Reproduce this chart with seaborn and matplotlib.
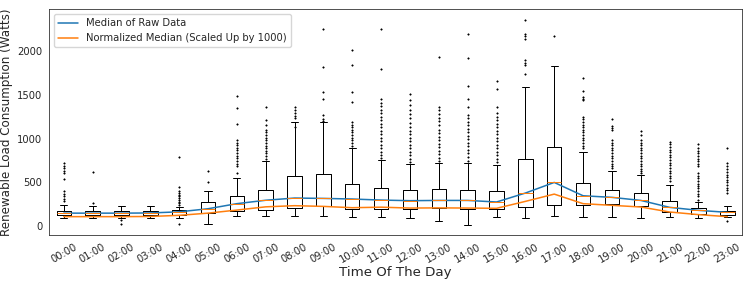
import matplotlib.pyplot as plt
import seaborn as sns

# valeurs (Watts)
hours = ["00:00", "01:00", "02:00", "03:00", "04:00", "05:00", "06:00", "07:00",
         "08:00", "09:00", "10:00", "11:00", "12:00", "13:00", "14:00", "15:00",
         "16:00", "17:00", "18:00", "19:00", "20:00", "21:00", "22:00", "23:00"]

median_raw = [150, 150, 150, 152, 165, 200, 258, 297, 322, 318, 311, 299,
              292, 295, 295, 277, 379, 500, 348, 330, 295, 216, 182, 159]
norm_median = [110, 110, 110, 112, 125, 150, 185, 222, 235, 227, 212, 218,
               208, 210, 208, 205, 284, 367, 258, 239, 220, 163, 133, 110]

q1 = [129, 125, 125, 125, 133, 152, 170, 182, 208, 227, 201, 197,
      197, 208, 201, 201, 220, 239, 242, 258, 227, 167, 144, 133]
q3 = [178, 178, 174, 174, 190, 281, 341, 413, 568, 598, 481, 432,
      409, 420, 413, 398, 769, 909, 489, 409, 379, 288, 205, 174]
whis_low = [95, 95, 95, 95, 95, 27, 114, 114, 114, 114, 102, 106,
            91, 64, 19, 106, 95, 114, 106, 102, 91, 102, 95, 106]
whis_high = [239, 227, 227, 235, 220, 406, 553, 746, 1189, 1189, 890, 754,
             712, 727, 720, 701, 1583, 1826, 845, 625, 580, 466, 277, 231]

outliers = [
    [720, 690, 660, 630, 606, 538, 398, 370, 340, 310, 284],
    [614, 265],
    [68, 23],
    [],
    [795, 448, 400, 380, 360, 340, 320, 300, 280, 260, 245, 30],
    [633, 508],
    [1489, 1345, 1167, 985, 955, 925, 895, 865, 835, 805, 775, 745, 715, 685, 610],
    [1364, 1212, 1150, 1100, 1070, 1040, 1010, 980, 950, 920, 890, 860, 830, 800, 770],
    [1356, 1320, 1290, 1260, 1240, 1136],
    [2246, 1818, 1534, 1455, 1269, 1220, 1200],
    [2015, 1837, 1534, 1420, 1193, 1160, 1130, 1100, 1070, 1040, 1010, 980, 950, 920],
    [2246, 1792, 1447, 1410, 1370, 1330, 1290, 1250, 1210, 1170, 1130, 1090, 1050,
     1010, 970, 930, 890, 850, 810, 780],
    [1504, 1439, 1380, 1330, 1280, 1230, 1180, 1130, 1090, 1050, 1010, 970, 930,
     890, 850, 810, 770, 735],
    [1932, 1356, 1320, 1280, 1240, 1200, 1150, 1100, 1060, 1020, 980, 940, 900,
     860, 820, 780, 745],
    [2189, 1913, 1602, 1455, 1356, 1269, 1230, 1190, 1150, 1110, 1070, 1030, 990,
     950, 910, 870, 830, 790, 750],
    [1655, 1564, 1364, 1288, 1250, 1210, 1170, 1130, 1090, 1050, 1010, 970, 930,
     890, 850, 810, 770, 730],
    [2356, 2197, 2170, 2140, 1894, 1865, 1837, 1735],
    [2167],
    [1689, 1545, 1470, 1455, 1439, 1250, 1220, 1190, 1160, 1130, 1100, 1070, 1040,
     1010, 980, 950, 920, 890],
    [1220, 1144, 1120, 1098, 985, 955, 925, 895, 865, 835, 805, 775, 745, 715, 685, 663],
    [1091, 1042, 985, 955, 925, 895, 865, 835, 805, 775, 745, 715, 685, 655, 625, 606],
    [966, 935, 905, 875, 845, 815, 785, 755, 725, 695, 665, 635, 605, 575, 545, 515],
    [939, 890, 860, 830, 800, 770, 740, 710, 682, 606, 575, 545, 515, 485, 455,
     436, 398, 370, 340, 303],
    [898, 720, 682, 650, 620, 590, 560, 530, 500, 470, 440, 410, 379, 64],
]

# 2. Construire les statistiques des boîtes
stats = []
for i in range(len(hours)):
    stats.append({
        "med": median_raw[i], "q1": q1[i], "q3": q3[i],
        "whislo": whis_low[i], "whishi": whis_high[i],
        "fliers": outliers[i],
    })
positions = list(range(len(hours)))

# 3. Figure
sns.set_style("white")
plt.rcParams['font.family'] = ['DejaVu Sans']

fig, ax = plt.subplots(figsize=(7.47, 2.83), dpi=100)
fig.subplots_adjust(left=0.066, right=0.993, top=0.967, bottom=0.17)

lw = 0.72
ax.bxp(stats, positions=positions, widths=0.5, manage_ticks=False,
       boxprops=dict(color='black', linewidth=lw),
       whiskerprops=dict(color='black', linewidth=lw),
       capprops=dict(color='black', linewidth=lw),
       medianprops=dict(color='#ff7f0e', linewidth=lw),
       flierprops=dict(marker='o', markersize=1.1, markerfacecolor='black',
                       markeredgecolor='black', markeredgewidth=0.3))

sns.lineplot(x=positions, y=median_raw, ax=ax, color='#1f77b4', linewidth=1.1,
             label="Median of Raw Data")
sns.lineplot(x=positions, y=norm_median, ax=ax, color='#ff7f0e', linewidth=1.1,
             label="Normalized Median (Scaled Up by 1000)")

ax.set_xlim(-0.5, len(hours) - 0.5)
ax.set_xticks(positions)
ax.set_xticklabels(hours, rotation=30, fontsize=7.2)
ax.set_yticks([0, 500, 1000, 1500, 2000])
ax.tick_params(axis='y', labelsize=7.2)
ax.tick_params(length=2.5, width=0.6, color='black', pad=2.5)
for s in ax.spines.values():
    s.set_linewidth(0.6)
    s.set_color('#333333')

ax.set_xlabel("Time Of The Day", fontsize=9.6, labelpad=1)
ax.set_ylabel("Renewable Load Consumption (Watts)", fontsize=8.6, labelpad=3)
ax.legend(loc='upper left', fontsize=7.2)

plt.savefig("out.png", dpi=100)
